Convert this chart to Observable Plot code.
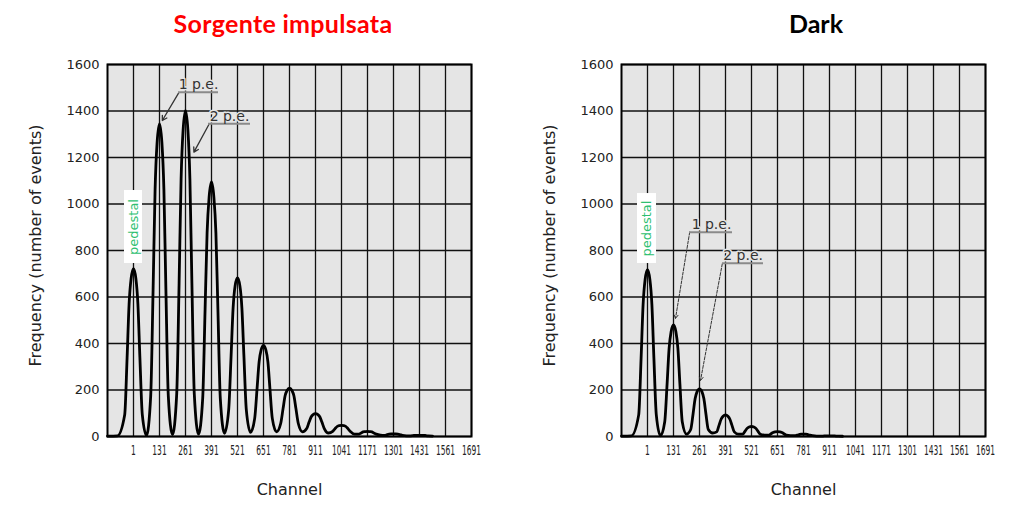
<!DOCTYPE html>
<html><head><meta charset="utf-8">
<script src="https://cdn.jsdelivr.net/npm/d3@7"></script>
<script src="https://cdn.jsdelivr.net/npm/@observablehq/plot@0.6"></script>
<style>
body{margin:0;background:#fff;}
#wrap{position:relative;width:1024px;height:509px;overflow:hidden;background:#fff;}
.title{position:absolute;top:8px;font-family:Lato,"Open Sans",sans-serif;font-weight:700;font-size:25px;line-height:1.2;transform:translateX(-50%);white-space:nowrap;}
.panel{position:absolute;top:0;}
</style></head><body><div id="wrap">
<div class="title" style="left:283px;color:#ff0000;letter-spacing:0.3px">Sorgente impulsata</div>
<div class="title" style="left:816px;color:#000">Dark</div>
<div id="p1" class="panel" style="left:0"></div>
<div id="p2" class="panel" style="left:512px"></div>
</div>
<script>
// Tick labels
const xTicks = [1,131,261,391,521,651,781,911,1041,1171,1301,1431,1561,1691];
const yTicks = [0,200,400,600,800,1000,1200,1400,1600];

// Points of the drawn spectrum outline (channel)
const curveChannels = [-129,-80,
  -43,-31,-21,-11,1,13,23,33,45,66,
  87,99,109,119,131,143,153,163,175,196,
  217,229,239,249,261,273,283,293,305,326,
  347,359,369,379,391,403,413,423,435,456,
  477,489,499,509,521,533,543,553,565,586,
  607,619,629,639,651,663,673,683,695,716,
  737,749,759,769,781,793,803,813,825,846,
  867,879,889,899,911,923,933,943,955,976,
  997,1009,1019,1029,1041,1053,1063,1073,1085,1106,
  1127,1139,1149,1159,1171,1183,1193,1203,1215,1236,
  1257,1269,1279,1289,1301,1313,1323,1333,1345,1366,
  1387,1399,1409,1419,1431,1443,1453,1463,1475,1496,
  1561,1691];

// Frequency (number of events) – "Sorgente impulsata"
const freqSorgente = [2,3,
  94,339,570,679,722,679,570,339,94,4,
  175,632,1063,1264,1345,1264,1063,632,175,8,
  182,659,1108,1318,1402,1318,1108,659,182,10,
  164,548,876,1029,1095,1029,876,548,164,14,
  116,348,552,648,682,648,552,348,116,18,
  78,208,321,372,392,372,321,208,78,20,
  56,121,175,198,208,198,175,121,56,20,
  34,62,84,94,98,94,84,62,34,15,
  22,34,43,47,48,47,43,34,22,10,
  10,15,20,21,22,21,20,15,10,6,
  5,8,10,11,11,11,10,8,5,3,
  3,4,5,5,5,5,5,4,3,2,
  null,null];

// Frequency (number of events) – "Dark"
const freqDark = [2,3,
  93,337,567,675,718,675,567,337,93,3,
  62,226,379,451,480,451,379,226,62,10,
  30,98,162,193,205,193,162,98,30,15,
  20,49,74,87,93,87,74,49,20,10,
  10,23,35,41,43,41,35,23,10,6,
  6,12,17,20,21,20,17,12,6,4,
  4,6,8,10,10,10,8,6,4,2,
  2,2,3,3,3,3,3,2,2,1,
  null,null,null,null,null,null,null,null,null,null,
  null,null,null,null,null,null,null,null,null,null,
  null,null,null,null,null,null,null,null,null,null,
  null,null,null,null,null,null,null,null,null,null,
  null,null];

const peLabels = ["1 p.e.", "2 p.e."];

function panel(el, cfg) {
  const pts = curveChannels.map((c, i) => ({c, f: cfg.values[i]}));
  const lab = peLabels.map((t, i) => ({t, x: cfg.labX[i], y: cfg.labY[i],
    ux1: cfg.ux1[i], ux2: cfg.ux2[i], uy: cfg.uy[i],
    ax1: cfg.ax1[i], ay1: cfg.ay1[i], ax2: cfg.ax2[i], ay2: cfg.ay2[i]}));
  const plot = Plot.plot({
    width: 512, height: 509,
    marginLeft: cfg.mLeft, marginRight: cfg.mRight, marginTop: 64, marginBottom: 73,
    x: {domain: [-129, 1691]},
    y: {domain: [0, 1600]},
    style: {fontFamily: "'DejaVu Sans', sans-serif", background: "transparent", color: "#222", overflow: "visible"},
    marks: [
      Plot.frame({fill: "#e5e5e5"}),
      Plot.ruleX(xTicks, {stroke: "#111", strokeWidth: 1.3}),
      Plot.ruleY(yTicks, {stroke: "#111", strokeWidth: 1.3}),
      Plot.rect([cfg.box], {x1: "x1", x2: "x2", y1: "y1", y2: "y2", fill: "#fff"}),
      Plot.text([cfg.box], {x: d => (d.x1 + d.x2) / 2, y: d => (d.y1 + d.y2) / 2, text: () => "pedestal",
        rotate: -90, fill: "#2fbf71", fontSize: 13}),
      Plot.line(pts, {x: "c", y: "f", curve: "monotone-x", stroke: "#000", strokeWidth: 2.8}),
      Plot.text(lab, {x: "x", y: "y", text: "t", lineAnchor: "bottom", fontSize: 14, fill: "none",
        stroke: "#e5e5e5", strokeWidth: 3}),
      Plot.arrow(lab, {x1: "ax1", y1: "ay1", x2: "ax2", y2: "ay2", stroke: "#333",
        strokeWidth: cfg.dashed ? 1 : 1.3, strokeDasharray: cfg.dashed ? "3,1.5" : null, headLength: 6}),
      Plot.ruleY(lab, {y: "uy", x1: "ux1", x2: "ux2", stroke: "#8a8a8a", strokeWidth: 2}),
      Plot.text(lab, {x: "x", y: "y", text: "t", lineAnchor: "bottom", fontSize: 14, fill: "#333"}),
      Plot.frame({stroke: "#000", strokeWidth: 2}),
      Plot.axisY({ticks: yTicks, tickSize: 0, tickPadding: 8, fontSize: 13, label: null, tickFormat: d => String(d)}),
      Plot.axisX({ticks: xTicks, tickSize: 0, tickPadding: 8, fontSize: 14.5, label: null, tickFormat: d => String(d)}),
      Plot.text(["Frequency (number of events)"], {frameAnchor: "left", dx: -72, dy: -5, rotate: -90,
        textAnchor: "middle", text: d => d, fontSize: 16, fill: "#222"}),
      Plot.text(["Channel"], {frameAnchor: "bottom", dy: 58, text: d => d, fontSize: 16, fill: "#222"})
    ]
  });
  plot.querySelectorAll('g[aria-label="x-axis tick label"] text').forEach(t => {
    let tr = t.getAttribute("transform");
    if (!tr) {
      const x = t.getAttribute("x") || 0, y = t.getAttribute("y") || 0;
      t.removeAttribute("x"); t.removeAttribute("y");
      tr = `translate(${x},${y})`;
    }
    t.setAttribute("transform", tr + " scale(0.52,1)");
  });
  el.appendChild(plot);
}

panel(document.getElementById("p1"), {
  values: freqSorgente, mLeft: 107, mRight: 41, dashed: false,
  box: {x1: -44, x2: 46, y1: 744, y2: 1058},
  labX: [326, 481], labY: [1493, 1357],
  ux1: [226, 376], ux2: [426, 586], uy: [1481, 1345],
  ax1: [227, 378], ay1: [1478, 1342], ax2: [145, 303], ay2: [1359, 1223]
});
panel(document.getElementById("p2"), {
  values: freqDark, mLeft: 109, mRight: 39, dashed: true,
  box: {x1: -49, x2: 46, y1: 744, y2: 1045},
  labX: [321, 479], labY: [891, 757],
  ux1: [211, 376], ux2: [426, 581], uy: [879, 745],
  ax1: [212, 375], ay1: [879, 743], ax2: [141, 266], ay2: [508, 241]
});
</script>
</body></html>
